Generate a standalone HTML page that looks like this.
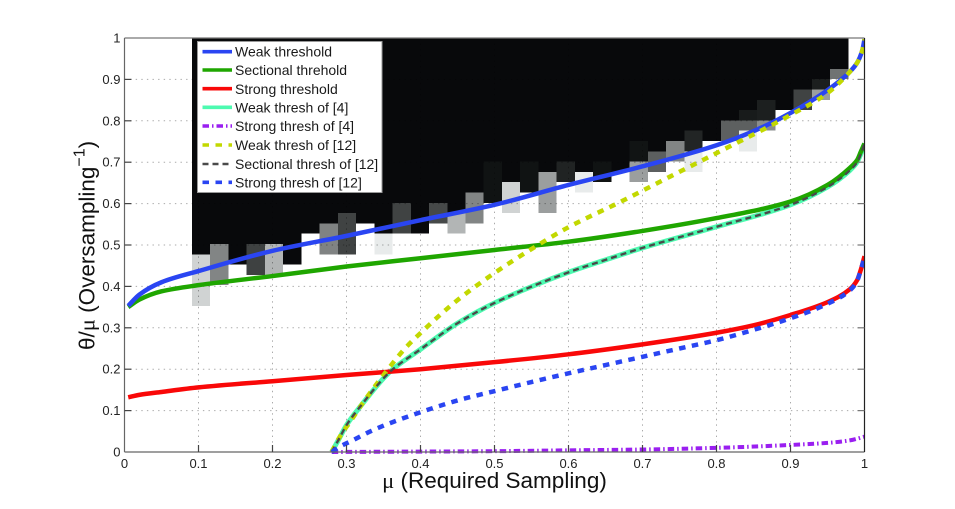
<!DOCTYPE html>
<html lang="en">
<head>
<meta charset="utf-8">
<title>Threshold comparison chart</title>
<style>
html,body{margin:0;padding:0;background:#fff;}
svg{display:block;font-family:"Liberation Sans",sans-serif;}
</style>
</head>
<body>
<svg id="chart" width="955" height="509" viewBox="0 0 955 509" xmlns="http://www.w3.org/2000/svg">
  <rect x="0" y="0" width="955" height="509" fill="#fff"/>
  <g id="heatmap" shape-rendering="crispEdges"></g>
  <g id="grid" style="mix-blend-mode:multiply"></g>
  <g id="series"></g>
  <g id="axes"></g>
  <g>
    <rect x="197.5" y="41.5" width="184.5" height="151" fill="#fff" stroke="#999" stroke-width="1"/>
    <g id="legend-lines"></g>
    <g font-size="14" fill="#1a1a1a">
      <text x="235" y="56.5">Weak threshold</text>
      <text x="235" y="75">Sectional threhold</text>
      <text x="235" y="94">Strong threshold</text>
      <text x="235" y="112.5">Weak thresh of [4]</text>
      <text x="235" y="131">Strong thresh of [4]</text>
      <text x="235" y="150">Weak thresh of [12]</text>
      <text x="235" y="169">Sectional thresh of [12]</text>
      <text x="235" y="187.5">Strong thresh of [12]</text>
    </g>
  </g>
  <text x="494.5" y="488" text-anchor="middle" font-size="22.5" fill="#111"><tspan font-family="'Liberation Serif',serif">μ</tspan> (Required Sampling)</text>
  <text transform="translate(94.5,350) rotate(-90)" font-size="22.5" fill="#111">θ/<tspan font-family="'Liberation Serif',serif">μ</tspan> (Oversampling<tspan dy="-10" font-size="16">−1</tspan><tspan dy="10">)</tspan></text>
</svg>
<script>
// Axis tick values and labels
const xTicks = [0, 0.1, 0.2, 0.3, 0.4, 0.5, 0.6, 0.7, 0.8, 0.9, 1];
const xTickLabels = ['0', '0.1', '0.2', '0.3', '0.4', '0.5', '0.6', '0.7', '0.8', '0.9', '1'];
const yTicks = [0, 0.1, 0.2, 0.3, 0.4, 0.5, 0.6, 0.7, 0.8, 0.9, 1];
const yTickLabels = ['0', '0.1', '0.2', '0.3', '0.4', '0.5', '0.6', '0.7', '0.8', '0.9', '1'];

// Series values as mu, theta/mu readings
const weakMu = [0.005, 0.02, 0.05, 0.1, 0.2, 0.3, 0.4, 0.5, 0.6, 0.7, 0.8, 0.85, 0.9, 0.95, 0.98, 0.99, 0.997, 1];
const weakTheta = [0.353, 0.38, 0.41, 0.437, 0.486, 0.522, 0.56, 0.597, 0.645, 0.69, 0.741, 0.775, 0.819, 0.874, 0.918, 0.94, 0.97, 0.997];
const sectionalMu = [0.005, 0.02, 0.05, 0.1, 0.2, 0.3, 0.4, 0.5, 0.6, 0.7, 0.8, 0.9, 0.95, 0.98, 0.99, 0.995, 1];
const sectionalTheta = [0.35, 0.368, 0.388, 0.403, 0.425, 0.448, 0.468, 0.488, 0.508, 0.534, 0.565, 0.605, 0.645, 0.686, 0.705, 0.725, 0.745];
const strongMu = [0.005, 0.02, 0.05, 0.1, 0.2, 0.3, 0.4, 0.5, 0.6, 0.7, 0.8, 0.85, 0.9, 0.95, 0.98, 0.99, 0.995, 1];
const strongTheta = [0.132, 0.138, 0.145, 0.156, 0.171, 0.186, 0.2, 0.217, 0.236, 0.26, 0.288, 0.306, 0.331, 0.362, 0.393, 0.415, 0.44, 0.473];
const weak4Mu = [0.28, 0.29, 0.3, 0.32, 0.35, 0.36, 0.4, 0.45, 0.5, 0.6, 0.65, 0.7, 0.8, 0.9, 0.95, 0.98, 0.99, 0.995, 1];
const weak4Theta = [0, 0.032, 0.065, 0.113, 0.178, 0.196, 0.248, 0.311, 0.36, 0.434, 0.464, 0.493, 0.544, 0.597, 0.64, 0.68, 0.7, 0.72, 0.745];
const strong4Mu = [0.28, 0.4, 0.5, 0.6, 0.7, 0.8, 0.9, 0.95, 0.98, 1];
const strong4Theta = [0, 0.001, 0.002, 0.004, 0.006, 0.01, 0.017, 0.022, 0.028, 0.037];
const weak12Mu = [0.28, 0.29, 0.3065, 0.3227, 0.35, 0.379, 0.4016, 0.4466, 0.496, 0.548, 0.6, 0.67, 0.737, 0.8, 0.9, 0.95, 0.98, 0.99, 0.997, 1];
const weak12Theta = [0, 0.034, 0.077, 0.12, 0.186, 0.25, 0.29, 0.362, 0.4275, 0.488, 0.543, 0.604, 0.665, 0.722, 0.814, 0.867, 0.918, 0.94, 0.97, 0.997];
const sect12Mu = [0.28, 0.29, 0.3, 0.32, 0.35, 0.36, 0.4, 0.45, 0.5, 0.6, 0.65, 0.7, 0.8, 0.9, 0.95, 0.98, 0.99, 0.995, 1];
const sect12Theta = [0, 0.032, 0.065, 0.113, 0.178, 0.196, 0.248, 0.311, 0.36, 0.434, 0.464, 0.493, 0.544, 0.597, 0.64, 0.68, 0.7, 0.72, 0.745];
const strong12Mu = [0.28, 0.29, 0.307, 0.336, 0.395, 0.453, 0.5, 0.55, 0.6, 0.65, 0.7, 0.75, 0.8, 0.85, 0.9, 0.95, 0.98, 0.99, 0.995, 1];
const strong12Theta = [0, 0.012, 0.027, 0.053, 0.093, 0.126, 0.147, 0.169, 0.19, 0.21, 0.23, 0.25, 0.27, 0.295, 0.323, 0.358, 0.39, 0.413, 0.44, 0.47];

// Heatmap: first mu edge, step, theta step, first non-black row per column, gray levels below it
const heatFirstMu = 0.0912;
const heatMuStep = 0.02464;
const heatThetaStep = 0.02488;
const heatStartRow = [21, 20, 22, 20, 20, 22, 19, 18, 17, 18, 19, 16, 19, 16, 17, 15, 12, 14, 12, 13, 12, 13, 12, 13, 10, 11, 10, 9, 10, 8, 7, 6, 7, 5, 4, 3];
const heatGrays = [
  [208, 208, 208, 208, 208], [130, 130, 130, 130], [], [62, 62, 62], [178, 178, 178], [], [],
  [128, 128, 128], [64, 64, 64, 64], [], [232, 232], [64, 64, 64], [], [70, 70], [178, 178],
  [130, 130, 130], [16, 16, 16, 16], [208, 208, 208], [16, 16, 16], [155, 155, 155, 155],
  [32, 32], [232, 232], [16, 16], [], [17, 17, 155, 155], [92, 92], [130, 130],
  [34, 34, 232, 232], [], [93, 93], [24, 93, 232, 232], [28, 28, 138], [], [64, 64], [28, 155], [112]
];

const NS = 'http://www.w3.org/2000/svg';
const plotLeft = 124.5, plotRight = 864.5, plotTop = 38, plotBottom = 452;
function xAt(mu) { return plotLeft + mu * (plotRight - plotLeft); }
function yAt(theta) { return plotBottom - theta * (plotBottom - plotTop); }

function make(tag, attrs, parent) {
  const el = document.createElementNS(NS, tag);
  for (const k in attrs) el.setAttribute(k, attrs[k]);
  parent.appendChild(el);
  return el;
}

function grayColor(v) { return 'rgb(' + v + ',' + Math.min(255, v + 3) + ',' + Math.min(255, v + 3) + ')'; }

// Heatmap
const heatG = document.getElementById('heatmap');
heatStartRow.forEach(function (startRow, i) {
  const x0 = xAt(heatFirstMu + i * heatMuStep);
  const x1 = xAt(heatFirstMu + (i + 1) * heatMuStep);
  const base = make('rect', { x: x0, y: yAt(1), width: x1 - x0, height: yAt(1 - startRow * heatThetaStep) - yAt(1), fill: '#08090b' }, heatG);
  
  
  heatGrays[i].forEach(function (v, j) {
    const yTop = yAt(1 - (startRow + j) * heatThetaStep);
    const yBot = yAt(1 - (startRow + j + 1) * heatThetaStep);
    const cell = make('rect', { x: x0, y: yTop, width: x1 - x0, height: yBot - yTop, fill: grayColor(v) }, heatG);
    
    
  });
});

// Grid
const gridG = document.getElementById('grid');
xTicks.slice(1, -1).forEach(function (t) {
  const line = make('line', { x1: xAt(t), x2: xAt(t), y1: plotTop, y2: plotBottom, stroke: '#aaa', 'stroke-width': 1, 'stroke-dasharray': '1.4 4.2' }, gridG);
  
  
});
yTicks.slice(1, -1).forEach(function (t) {
  const line = make('line', { x1: plotLeft, x2: plotRight, y1: yAt(t), y2: yAt(t), stroke: '#aaa', 'stroke-width': 1, 'stroke-dasharray': '1.4 4.2' }, gridG);
  
  
});

// Monotone cubic path through readings
function curvePath(mus, thetas) {
  const px = mus.map(xAt), py = thetas.map(yAt);
  const n = px.length;
  const sl = [];
  for (let i = 0; i < n - 1; i++) sl.push((py[i + 1] - py[i]) / (px[i + 1] - px[i]));
  const m = [sl[0]];
  for (let i = 1; i < n - 1; i++) {
    const h0 = px[i] - px[i - 1], h1 = px[i + 1] - px[i];
    const w1 = 2 * h1 + h0, w2 = h1 + 2 * h0;
    m.push((w1 + w2) / (w1 / sl[i - 1] + w2 / sl[i]));
  }
  m.push(sl[n - 2]);
  let d = 'M' + px[0].toFixed(2) + ' ' + py[0].toFixed(2);
  for (let i = 0; i < n - 1; i++) {
    const h = (px[i + 1] - px[i]) / 3;
    d += 'C' + (px[i] + h).toFixed(2) + ' ' + (py[i] + m[i] * h).toFixed(2) + ' ' + (px[i + 1] - h).toFixed(2) + ' ' + (py[i + 1] - m[i + 1] * h).toFixed(2) + ' ' + px[i + 1].toFixed(2) + ' ' + py[i + 1].toFixed(2);
  }
  return d;
}

const seriesG = document.getElementById('series');
const legendG = document.getElementById('legend-lines');
const clipDef = make('clipPath', { id: 'plot-clip' }, document.getElementById('chart'));
make('rect', { x: plotLeft, y: plotTop - 2, width: plotRight - plotLeft, height: plotBottom - plotTop + 4 }, clipDef);

function drawSeries(name, mus, thetas, color, width, dash, legendY) {
  const path = make('path', { d: curvePath(mus, thetas), fill: 'none', stroke: color, 'stroke-width': width, 'clip-path': 'url(#plot-clip)' }, seriesG);
  
  
  const sample = make('line', { x1: 202.5, x2: 232, y1: legendY, y2: legendY, stroke: color, 'stroke-width': Math.min(width, 3.6) }, legendG);
  
  
  if (dash) {
    path.setAttribute('stroke-dasharray', dash);
    sample.setAttribute('stroke-dasharray', dash);
  }
}

drawSeries('weak-thresh-4-line', weak4Mu, weak4Theta, '#4dfab0', 5, null, 107.3);
drawSeries('strong-thresh-4-line', strong4Mu, strong4Theta, '#9a1ff0', 4, '6.5 3 1.5 3', 126);
drawSeries('sectional-threhold-line', sectionalMu, sectionalTheta, '#1fa600', 4.5, null, 70);
drawSeries('strong-threshold-line', strongMu, strongTheta, '#f90808', 4.5, null, 88.7);
drawSeries('weak-threshold-line', weakMu, weakTheta, '#2a45f2', 4.5, null, 51.7);
drawSeries('weak-thresh-12-line', weak12Mu, weak12Theta, '#c2d800', 4.5, '6.5 6.5', 145);
drawSeries('sectional-thresh-12-line', sect12Mu, sect12Theta, '#4a4a4a', 2.4, '6 4', 164);
drawSeries('strong-thresh-12-line', strong12Mu, strong12Theta, '#2a45f2', 4.5, '6.5 6.5', 182.3);

// Axes
const axesG = document.getElementById('axes');
function axisLine(name, x1, y1, x2, y2, color) {
  const l = make('line', { x1: x1, y1: y1, x2: x2, y2: y2, stroke: color, 'stroke-width': 1.2 }, axesG);
  
  
}
axisLine('x-axis-line', plotLeft, plotBottom, plotRight, plotBottom, '#666');
axisLine('top-axis-line', plotLeft, plotTop, plotRight, plotTop, '#777');
axisLine('y-axis-line', plotLeft, plotTop, plotLeft, plotBottom, '#666');
axisLine('right-axis-line', plotRight, plotTop, plotRight, plotBottom, '#222');

xTicks.forEach(function (t, i) {
  if (t > 0 && t < 1) {
    axisLine('x-tick', xAt(t), plotBottom, xAt(t), plotBottom - 7, '#444');
  }
  const label = make('text', { x: xAt(t), y: 468, 'text-anchor': 'middle', 'font-size': 13, fill: '#222' }, axesG);
  
  
  label.textContent = xTickLabels[i];
});
yTicks.forEach(function (t, i) {
  if (t > 0 && t < 1) {
    axisLine('y-tick-left', plotLeft, yAt(t), plotLeft + 7, yAt(t), '#444');
    axisLine('y-tick-right', plotRight, yAt(t), plotRight - 7, yAt(t), '#777');
  }
  const label = make('text', { x: 120.5, y: yAt(t) + 4.5, 'text-anchor': 'end', 'font-size': 13, fill: '#222' }, axesG);
  
  
  label.textContent = yTickLabels[i];
});
</script>
</body>
</html>
